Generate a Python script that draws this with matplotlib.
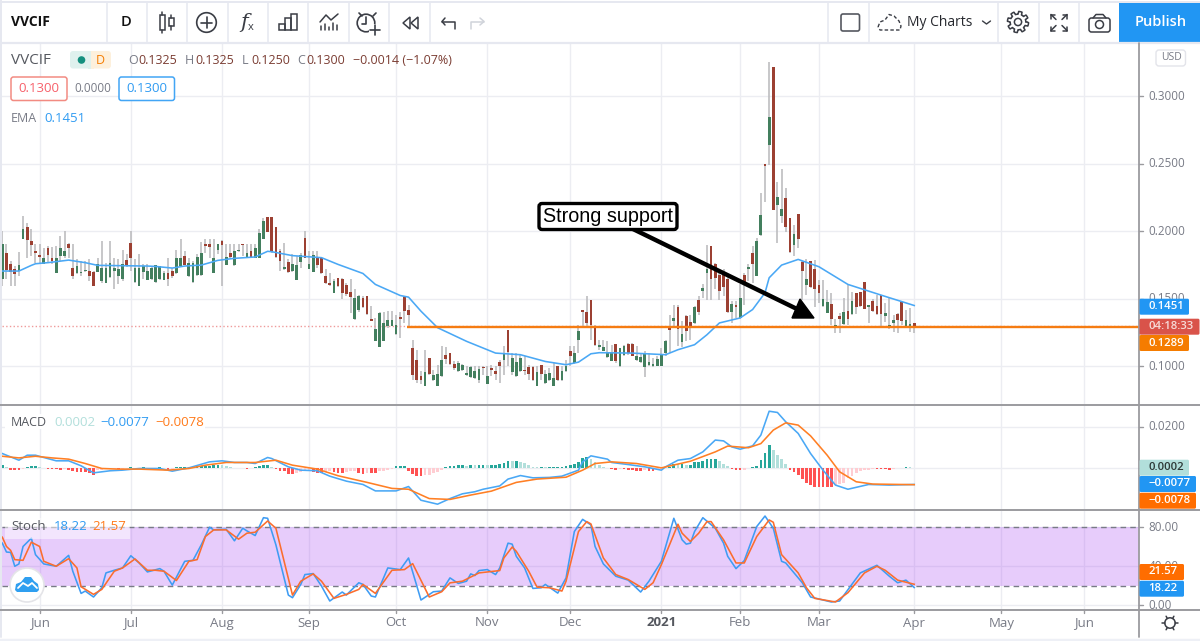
import matplotlib
matplotlib.use("Agg")
import matplotlib.pyplot as plt
from matplotlib.patches import Circle, FancyBboxPatch, Polygon, Rectangle
import numpy as np

plt.rcParams['font.family'] = ['Open Sans', 'DejaVu Sans']

W, H = 1200, 641

#
# Data (daily bars, 221 of them)
#
highs = [
    .2003, .1904, .1780, .1743, .1847, .2114, .2065, .2020, .1904, .1904,
    .1879, .1891, .1886, .1891, .1966, .2003, .1916, .1904, .1792, .1780,
    .1780, .1792, .1706, .1805, .1928, .1768, .1928, .1805, .1792, .1862,
    .1829, .2003, .1792, .1829, .1755, .1755, .1743, .1748, .1745, .1706,
    .1805, .1730, .1862, .1941, .1854, .1805, .1780, .1829, .1921, .1941,
    .1946, .1941, .1904, .1936, .1904, .1904, .1904, .1904, .1904, .1904,
    .1904, .1904, .2020, .2102, .2107, .2107, .2035, .1867, .1916, .1792,
    .1829, .1817, .1842, .2003, .1854, .1854, .1854, .1805, .1718, .1693,
    .1644, .1651, .1651, .1614, .1649, .1574, .1530, .1520, .1520, .1446,
    .1359, .1401, .1404, .1409, .1409, .1384, .1401, .1525, .1458, .1198,
    .1119, .0963, .1119, .1062, .0975, .1013, .1149, .1144, .1099, .1037,
    .1037, .1020, .1000, .1000, .1000, .1000, .1000, .1000, .1013, .1000,
    .1050, .1149, .1273, .1099, .1099, .1087, .1075, .1013, .1000, .1000,
    .1013, .0975, .0988, .1025, .1000, .1000, .1050, .1149, .1149, .1310,
    .1421, .1520, .1495, .1310, .1193, .1193, .1186, .1161, .1166, .1134,
    .1161, .1173, .1173, .1149, .1099, .1112, .1099, .1062, .1075, .1136,
    .1198, .1384, .1458, .1458, .1334, .1384, .1384, .1446, .1520, .1607,
    .1896, .1891, .1768, .1706, .1718, .1681, .1483, .1483, .1607, .1693,
    .1755, .1891, .1953, .2287, .2497, .3254, .3212, .2366, .2460, .2324,
    .2095, .2046, .2127, .1782, .1792, .1782, .1787, .1639, .1639, .1565,
    .1541, .1348, .1393, .1504, .1602, .1553, .1541, .1553, .1622, .1454,
    .1496, .1528, .1528, .1466, .1511, .1380, .1393, .1479, .1417, .1429,
    .1325,
]
lows = [
    .1594, .1644, .1594, .1594, .1673, .1941, .1800, .1817, .1763, .1763,
    .1758, .1768, .1755, .1691, .1780, .1805, .1805, .1644, .1681, .1669,
    .1698, .1631, .1594, .1701, .1619, .1614, .1656, .1574, .1607, .1631,
    .1738, .1706, .1619, .1594, .1644, .1639, .1639, .1619, .1639, .1639,
    .1599, .1656, .1686, .1738, .1748, .1664, .1619, .1673, .1669, .1842,
    .1805, .1688, .1829, .1594, .1750, .1805, .1743, .1849, .1817, .1805,
    .1800, .1800, .1800, .1946, .1998, .1842, .1805, .1706, .1713, .1693,
    .1701, .1639, .1730, .1800, .1718, .1698, .1730, .1681, .1607, .1599,
    .1540, .1589, .1500, .1520, .1396, .1347, .1401, .1433, .1381, .1334,
    .1186, .1144, .1186, .1285, .1297, .1235, .1211, .1322, .1297, .0901,
    .0876, .0872, .0852, .0938, .0896, .0852, .0921, .1020, .1013, .0975,
    .0961, .0963, .0931, .0914, .0909, .0876, .0938, .0872, .0926, .0901,
    .0876, .0938, .1000, .0938, .0921, .0958, .0938, .0901, .0896, .0852,
    .0901, .0872, .0896, .0852, .0896, .0896, .0956, .1000, .1020, .1099,
    .1297, .1297, .1198, .1154, .1124, .1112, .1062, .1037, .1025, .0995,
    .1075, .1087, .1075, .1037, .1025, .0921, .1000, .0995, .1000, .1000,
    .1075, .1099, .1285, .1149, .1144, .1186, .1198, .1317, .1384, .1508,
    .1495, .1495, .1570, .1495, .1520, .1396, .1322, .1359, .1352, .1458,
    .1631, .1614, .1669, .1966, .2218, .2490, .2157, .1915, .2058, .1997,
    .1836, .1817, .1873, .1491, .1528, .1577, .1442, .1467, .1442, .1393,
    .1306, .1245, .1245, .1306, .1304, .1380, .1390, .1437, .1422, .1324,
    .1405, .1380, .1299, .1331, .1274, .1257, .1250, .1306, .1294, .1257,
    .1250,
]
opens = [
    .1644, .1837, .1755, .1718, .1706, .1941, .2035, .1931, .1857, .1824,
    .1758, .1876, .1805, .1691, .1817, .1817, .1906, .1725, .1688, .1691,
    .1703, .1706, .1701, .1701, .1629, .1617, .1661, .1703, .1673, .1644,
    .1787, .1916, .1626, .1599, .1701, .1641, .1646, .1624, .1644, .1641,
    .1693, .1706, .1693, .1745, .1817, .1669, .1624, .1676, .1676, .1904,
    .1904, .1691, .1864, .1928, .1750, .1842, .1748, .1854, .1904, .1810,
    .1857, .1805, .1805, .1946, .2107, .2107, .2035, .1854, .1718, .1775,
    .1706, .1639, .1775, .1953, .1718, .1701, .1805, .1805, .1669, .1617,
    .1542, .1651, .1649, .1604, .1552, .1349, .1416, .1505, .1520, .1354,
    .1186, .1146, .1188, .1297, .1302, .1238, .1364, .1515, .1421, .1134,
    .1047, .0933, .0857, .1062, .0901, .0857, .0926, .1082, .1099, .1015,
    .0966, .0973, .0938, .0919, .0914, .0901, .0995, .0874, .0988, .0968,
    .1032, .1045, .1273, .0961, .0926, .0963, .0971, .0995, .0998, .0857,
    .1008, .0876, .0901, .0854, .1000, .0901, .0968, .1112, .1025, .1193,
    .1416, .1406, .1490, .1292, .1141, .1117, .1067, .1040, .1166, .1000,
    .1082, .1166, .1166, .1045, .1032, .0995, .1008, .1000, .1005, .1005,
    .1099, .1297, .1339, .1441, .1178, .1376, .1329, .1322, .1490, .1557,
    .1693, .1891, .1755, .1676, .1681, .1649, .1404, .1458, .1359, .1676,
    .1723, .1837, .1673, .1973, .2497, .2637, .3212, .2194, .2112, .2243,
    .2095, .1898, .2127, .1770, .1602, .1782, .1720, .1600, .1447, .1398,
    .1462, .1294, .1373, .1311, .1407, .1385, .1541, .1548, .1622, .1439,
    .1486, .1449, .1528, .1373, .1287, .1321, .1388, .1479, .1299, .1297,
    .1325,
]
closes = [
    .1904, .1713, .1698, .1681, .1750, .2015, .1936, .1899, .1842, .1807,
    .1805, .1824, .1780, .1805, .1874, .1852, .1879, .1669, .1745, .1701,
    .1711, .1671, .1597, .1755, .1730, .1730, .1768, .1725, .1718, .1755,
    .1748, .1802, .1730, .1730, .1745, .1706, .1725, .1748, .1745, .1693,
    .1644, .1669, .1805, .1805, .1753, .1768, .1768, .1812, .1842, .1894,
    .1884, .1805, .1904, .1896, .1810, .1812, .1854, .1862, .1899, .1842,
    .1807, .1879, .1990, .2074, .1998, .1849, .1812, .1782, .1738, .1701,
    .1755, .1753, .1824, .1805, .1755, .1822, .1748, .1688, .1619, .1602,
    .1636, .1594, .1547, .1535, .1515, .1508, .1520, .1441, .1386, .1337,
    .1280, .1396, .1322, .1342, .1342, .1305, .1352, .1409, .1381, .0936,
    .0901, .0901, .0958, .0946, .0938, .0943, .1050, .1052, .1018, .0988,
    .1023, .1010, .0951, .0993, .0968, .0980, .0988, .0926, .0975, .0948,
    .1003, .1094, .1104, .1060, .1035, .1062, .0963, .0946, .0901, .0961,
    .0946, .0941, .0951, .0914, .0901, .0968, .1005, .1075, .1099, .1263,
    .1401, .1322, .1310, .1161, .1159, .1141, .1104, .1104, .1040, .1134,
    .1149, .1099, .1080, .1080, .1067, .1099, .1035, .1020, .1055, .1087,
    .1191, .1273, .1359, .1277, .1243, .1265, .1292, .1441, .1401, .1577,
    .1718, .1649, .1654, .1557, .1589, .1401, .1465, .1441, .1505, .1619,
    .1738, .1755, .1928, .2121, .2485, .2842, .2157, .2255, .2164, .2034,
    .1849, .1979, .1945, .1708, .1644, .1585, .1575, .1543, .1499, .1476,
    .1348, .1304, .1348, .1400, .1353, .1481, .1439, .1444, .1427, .1454,
    .1412, .1388, .1385, .1393, .1304, .1346, .1346, .1336, .1346, .1314,
    .1300,
]

ema_bars = [0, 4, 7, 8, 11, 16, 20, 23, 35, 37, 41, 44, 48, 52, 56, 61, 64, 65, 70, 77,
            81, 87, 90, 96, 98, 101, 105, 112, 119, 125, 131, 136, 139, 142, 144, 152,
            160, 163, 167, 170, 173, 178, 181, 184, 185, 188, 192, 197, 204, 212, 220]
ema_vals = [.1706, .1706, .1748, .1760, .1768, .1787, .1768, .1748, .1743, .1740, .1728,
            .1743, .1750, .1785, .1800, .1810, .1852, .1849, .1820, .1805, .1755, .1688,
            .1607, .1525, .1513, .1409, .1287, .1186, .1099, .1087, .1037, .1013, .1032,
            .1094, .1102, .1099, .1087, .1124, .1161, .1235, .1322, .1359, .1421, .1545,
            .1656, .1750, .1792, .1738, .1607, .1528, .1451]

support_level = .1289
support_start = 97.6

macd_bars = [0, 2, 4, 6, 8, 10, 13, 16, 19, 22, 26, 29, 33, 38, 41, 45, 50, 53, 56, 59, 61,
             64, 65, 69, 72, 76, 79, 83, 87, 90, 95, 98, 101, 105, 108, 111, 114, 116, 120,
             122, 125, 128, 132, 135, 139, 140, 142, 146, 147, 151, 155, 159, 160, 163, 166,
             169, 172, 174, 176, 178, 181, 183, 185, 187, 189, 192, 195, 198, 201, 204, 209,
             214, 220]
macd_vals = [.0072, .0056, .0040, .0064, .0064, .0053, .0037, .0037, .0013, -.0021, -.0011,
             -.0008, 0, 0, -.0013, .0003, .0032, .0037, .0029, .0029, .0024, .0053, .0048,
             .0008, -.0008, -.0011, -.0037, -.0061, -.0077, -.0108, -.0108, -.0087, -.0153,
             -.0172, -.0145, -.0122, -.0112, -.0100, -.0084, -.0051, -.0034, -.0045, -.0043,
             -.0037, -.0008, .0032, .0061, .0045, .0029, .0019, .0008, -.0008, .0008, .0040,
             .0048, .0080, .0137, .0133, .0104, .0093, .0109, .0161, .0276, .0270, .0225,
             .0169, .0072, -.0008, -.0080, -.0100, -.0077, -.0080, -.0077]

signal_bars = [0, 4, 8, 12, 16, 20, 24, 28, 33, 40, 45, 49, 54, 61, 66, 70, 76, 81, 88, 94,
               98, 103, 108, 113, 118, 124, 129, 136, 140, 143, 147, 153, 159, 166, 172, 175,
               180, 183, 186, 189, 192, 195, 199, 202, 206, 210, 220]
signal_vals = [.0059, .0051, .0059, .0051, .0045, .0024, 0, -.0003, -.0003, -.0008, 0, .0016,
               .0029, .0029, .0040, .0016, -.0003, -.0035, -.0067, -.0096, -.0100, -.0145,
               -.0149, -.0128, -.0109, -.0067, -.0051, -.0042, -.0008, .0024, .0032, .0024,
               .0003, .0035, .0080, .0108, .0100, .0120, .0185, .0220, .0209, .0157, .0064,
               -.0016, -.0064, -.0075, -.0078]

macd_hist = [
    .0016, .0008, -.0005, -.0006, -.0006, -.0003, .0008, .0011, .0011, .0006,
    .0003, -.0002, -.0003, -.0004, -.0005, -.0002, -.0008, -.0014, -.0016, -.0018,
    -.0019, -.0022, -.0030, -.0008, -.0006, -.0004, -.0003, -.0002, -.0002, -.0001,
    .0002, .0008, .0003, .0002, .0006, .0002, .0002, .0003, .0005, .0002,
    -.0006, -.0003, .0005, .0008, .0008, .0006, .0008, .0010, .0011, .0013,
    .0014, .0016, .0019, .0016, .0012, .0008, .0004, .0003, .0002, -.0002,
    .0002, .0006, .0013, .0016, .0016, .0008, -.0003, -.0010, -.0014, -.0026,
    -.0026, -.0022, -.0018, -.0014, -.0012, -.0016, -.0020, -.0024, -.0016, -.0013,
    -.0019, -.0024, -.0024, -.0016, -.0013, -.0010, -.0024, -.0026, -.0022, -.0024,
    -.0024, -.0012, -.0010, -.0006, -.0003, .0010, .0013, .0014, -.0010, -.0026,
    -.0035, -.0035, -.0032, -.0029, -.0024, -.0016, -.0006, .0008,
    .0013, .0013, .0016, .0016, .0014, .0019, .0016, .0019, .0019, .0016,
    .0019, .0019, .0024, .0027, .0038, .0035, .0035, .0032, .0026, .0016,
    .0008, .0006, .0006, .0005, .0005, .0005, .0006, .0008, .0011, .0019,
    .0022, .0032, .0051, .0054, .0048, .0032, .0016, .0008, .0002, -.0003,
    -.0006, -.0002, -.0002, -.0006, -.0008, -.0010, -.0013, -.0005, -.0010, -.0013,
    -.0005, -.0001, .0002, .0008, .0024, .0022, .0022, .0019, .0019, .0029,
    .0029, .0035, .0045, .0048, .0048, .0038, .0022, .0010, -.0003, -.0008,
    -.0008, -.0005, .0002, .0006, .0014, .0042, .0075, .0112, .0088, .0067,
    .0048, .0024, -.0008, -.0019, -.0032, -.0051, -.0072, -.0080, -.0090, -.0091,
    -.0091, -.0091, -.0091, -.0080, -.0077, -.0069, -.0048, -.0035, -.0024, -.0013,
    -.0006, -.0005, -.0003, -.0003, -.0003, -.0003, -.0006, -.0002, .0001, .0003,
    .0006, .0005, .0002,
]

stoch_k_bars = [0, 1, 2, 3, 4, 5, 7, 8, 10, 13, 16, 17, 19, 20, 22, 24, 25, 27, 29, 31, 33, 35,
                38, 39, 41, 44, 46, 48, 50, 51, 54, 56, 58, 59, 61, 63, 64, 66, 69, 70, 72, 73,
                75, 77, 79, 82, 83, 86, 87, 89, 90, 93, 96, 98, 101, 104, 106, 108, 110, 112,
                113, 114, 115, 117, 119, 120, 122, 123, 124, 126, 128, 130, 131, 134, 136,
                138, 140, 142, 143, 145, 148, 151, 154, 156, 159, 162, 164, 165, 166, 167,
                169, 172, 174, 175, 177, 179, 182, 184, 186, 188, 189, 193, 195, 200, 202,
                207, 211, 214, 216, 218, 220]
stoch_k_vals = [63.7, 54.6, 54.2, 40, 42.4, 60.3, 68.8, 51.9, 42.4, 40, 51.2, 34.9, 12.2, 14.6,
                8.5, 18, 33.2, 35.9, 38.3, 50.8, 43.4, 34.2, 37.6, 34.9, 20.7, 45.1, 46.1, 62,
                80, 77.3, 78, 66.1, 79, 76.3, 71.5, 89.8, 89.2, 62, 10.5, 7.8, 21.4, 31.5, 32.5,
                19.7, 4.4, 13.6, 10.5, 23.1, 21.4, 9.5, 8.5, 38.3, 36.6, 48.5, 5.4, 13.9, 14.6,
                28.1, 22.4, 24.7, 32.2, 30.5, 35.6, 36.6, 31.5, 38.3, 63.7, 62.7, 50.2, 38.3,
                17.3, 18, 21.4, 12.5, 28.1, 75.6, 88.1, 82.4, 60.3, 42.4, 29.8, 25.8, 13.6,
                24.7, 45.1, 89.2, 67.1, 62.7, 63.7, 75.6, 89.8, 79, 63.7, 50.2, 37.6, 45.8,
                80.7, 91.5, 79, 45.1, 43.4, 23.1, 8.5, 3.4, 4.4, 33.2, 41, 29.8, 23.1, 25.8,
                18.22]

stoch_d_bars = [0, 1, 2, 3, 5, 7, 9, 10, 13, 16, 18, 19, 22, 24, 27, 29, 32, 35, 37, 39, 42, 45,
                47, 49, 51, 54, 57, 59, 61, 64, 66, 70, 72, 75, 77, 80, 83, 86, 87, 90, 94, 97,
                99, 103, 106, 108, 111, 115, 120, 121, 123, 124, 127, 129, 132, 135, 136, 139,
                141, 142, 145, 148, 151, 155, 157, 159, 163, 164, 166, 168, 170, 171, 174, 177,
                179, 182, 185, 186, 188, 192, 194, 196, 201, 204, 208, 211, 213, 216, 220]
stoch_d_vals = [69.8, 60.3, 56.3, 46.8, 46.1, 64.7, 60.3, 45.1, 40, 47.8, 38.3, 19, 11.2, 16.3,
                34.9, 38.3, 47.5, 35.9, 35.9, 34.9, 25.4, 45.1, 46.8, 70.5, 77.3, 77.3, 67.8,
                73.9, 74.9, 86.4, 79, 10.5, 24.7, 32.2, 24.7, 7.1, 11.2, 16.3, 21.4, 12.2, 35.9,
                36.6, 42.7, 8.5, 13.9, 23, 24.7, 33.2, 35.6, 48.5, 59.7, 55.3, 34.9, 18.6, 18,
                14.6, 24.7, 75.6, 85.8, 83.4, 48.5, 31.5, 26.4, 16.3, 23.1, 41.7, 83.1, 73.9,
                65.4, 73.9, 85.8, 85.8, 67.1, 43.4, 43.4, 70.5, 87.5, 85.1, 51.9, 33.2, 18, 7.1,
                3.4, 12.9, 33.2, 40, 35.9, 25.8, 21.57]

month_bars = [9, 31, 53, 74, 95, 117, 137, 159, 178, 197, 220, 241, 261]
month_labels = ["Jun", "Jul", "Aug", "Sep", "Oct", "Nov", "Dec", "2021", "Feb", "Mar", "Apr", "May", "Jun"]
price_ticks = [.10, .15, .20, .25, .30]
macd_ticks = [0, .02]
stoch_ticks = [0, 40, 80]

#
# Colours
#
GREEN = "#437f5e"
RED = "#9c4032"
WICK = "#b8b8ba"
GRID = "#ecedf2"
TXT = "#787b86"
BLUE = "#4aa8f5"
ORANGE = "#ff7f24"
SEP = "#9b9b9f"

x_left, x_right = 2, 1139
bar0, bar_step = 2.33, 4.145


def pane(top, bottom, ylim):
    a = fig.add_axes([x_left / W, 1 - bottom / H, (x_right - x_left) / W, (bottom - top) / H])
    a.set_xlim((x_left - bar0) / bar_step, (x_right - bar0) / bar_step)
    a.set_ylim(*ylim)
    a.set_xticks(month_bars)
    a.set_xticklabels([])
    a.tick_params(length=0)
    a.grid(True, color=GRID, lw=1)
    a.set_axisbelow(True)
    for s in a.spines.values():
        s.set_visible(False)
    return a


fig = plt.figure(figsize=(W / 100, H / 100), dpi=100, facecolor="white")
bars = np.arange(len(closes))

#
# Price pane
#
ax = pane(43, 405, (.0715, .3393))
ax.set_yticks(price_ticks)
ax.set_yticklabels([])
ax.vlines(bars, lows, highs, color=WICK, lw=1.1, zorder=2)
o, c = np.array(opens), np.array(closes)
up = c >= o
ax.bar(bars, np.maximum(np.abs(c - o), .0006), bottom=np.minimum(o, c), width=.66,
       color=[GREEN if u else RED for u in up], linewidth=0, zorder=3)
ax.plot(ema_bars, ema_vals, color=BLUE, lw=1.15, zorder=4)
ax.axhline(closes[-1], color="#ef9a9a", lw=1, ls=":", zorder=2)
ax.hlines(support_level, support_start, ax.get_xlim()[1], color="#f57c12", lw=1.7, zorder=5)

#
# MACD pane
#
ax2 = pane(405, 509.7, (-.01986, .0306))
ax2.set_yticks(macd_ticks)
ax2.set_yticklabels([])
hist_cols = []
for i, v in enumerate(macd_hist):
    prev = macd_hist[i - 1] if i else 0
    if v >= 0:
        hist_cols.append("#26a69a" if v >= prev else "#b2dfdb")
    else:
        hist_cols.append("#ff5252" if v <= prev else "#ffcdd2")
ax2.bar(bars, macd_hist, width=.65, color=hist_cols, linewidth=0, zorder=2)
ax2.plot(macd_bars, macd_vals, color=BLUE, lw=1.15, zorder=3)
ax2.plot(signal_bars, signal_vals, color=ORANGE, lw=1.15, zorder=4)

#
# Stoch pane
#
ax3 = pane(509.7, 609, (-3.8, 98))
ax3.set_yticks(stoch_ticks)
ax3.set_yticklabels([])
ax3.axhspan(20, 80, color="#a337f3", alpha=.25, lw=0, zorder=1)
ax3.axhline(80, color="#787b86", lw=1, ls=(0, (4, 3)), zorder=2)
ax3.axhline(20, color="#787b86", lw=1, ls=(0, (4, 3)), zorder=2)
ax3.plot(stoch_k_bars, stoch_k_vals, color="#3f9cf3", lw=1.15, zorder=3)
ax3.plot(stoch_d_bars, stoch_d_vals, color="#fb6d2e", lw=1.15, zorder=4)

#
# Overlay in pixel coordinates: toolbar, legends, price tags, callout
#
ui = fig.add_axes([0, 0, 1, 1], zorder=10)
ui.set_xlim(0, W)
ui.set_ylim(H, 0)
ui.axis("off")
ui.patch.set_alpha(0)


def label(x, y, s, color=TXT, size=9.5, ha="left", weight="normal", **kw):
    ui.text(x, y, s, color=color, fontsize=size, ha=ha, va="center", fontweight=weight, **kw)


def box(x0, y0, x1, y1, fc="white", ec="none", lw=1, r=2.5, z=1):
    ui.add_patch(FancyBboxPatch((x0 + r, y0 + r), x1 - x0 - 2 * r, y1 - y0 - 2 * r,
                                boxstyle=f"round,pad={r},rounding_size={r}",
                                fc=fc, ec=ec, lw=lw, zorder=z))


def line(xs, ys, color="#3a3d45", lw=1.2, **kw):
    ui.plot(xs, ys, color=color, lw=lw, solid_capstyle="round", **kw)


# pane frames
ui.add_patch(Rectangle((0, 0), W, 42.5, fc="white", ec="none", zorder=0))
line([0, W], [42.5, 42.5], color="#e6e8f0", lw=1.6)
line([0, W], [2, 2], color="#e6e8f0", lw=1.4)
line([1, 1], [0, 637], color="#e6e8f0", lw=1.4)
line([0, W], [639.5, 639.5], color="#eef0f6", lw=2.5)
for y in (405, 509.7, 609.5):
    line([0, W], [y, y], color=SEP, lw=1.4)
line([x_right, x_right], [43, 637], color=SEP, lw=1.3)
for x in (107, 147, 187, 228, 268, 308, 349, 389, 430, 828, 869, 998, 1039, 1079):
    line([x, x], [3, 42], color="#e6e8f0", lw=1.1)

# toolbar
label(11, 22, "VVCIF", color="#111111", size=10, weight="bold")
label(126, 22.5, "D", color="#111111", size=10.5, ha="center", weight="semibold")
for x, y0, y1, ym0, ym1 in ((162, 12, 33, 15, 30), (171, 15, 30, 18, 26)):
    line([x, x], [y0, ym0], lw=1.1)
    line([x, x], [ym1, y1], lw=1.1)
    ui.add_patch(Rectangle((x - 2.5, ym0), 5, ym1 - ym0, fc="white", ec="#3a3d45", lw=1.1))
ui.add_patch(Circle((206.5, 22.5), 9.8, fc="none", ec="#3a3d45", lw=1.2))
line([201, 212], [22.5, 22.5])
line([206.5, 206.5], [17, 28])
ui.text(244, 22, "f", family="DejaVu Serif", style="italic", fontsize=15, color="#3a3d45", ha="center", va="center")
label(251, 28, "x", color="#3a3d45", size=8, ha="center")
for x, t in ((279, 24), (285, 18), (291, 14)):
    ui.add_patch(Rectangle((x, t), 5.5, 30 - t, fc="none", ec="#3a3d45", lw=1.1))
line([320, 326, 331, 338], [22, 15, 20, 14], lw=1.1)
for x, t in ((321, 26), (325, 24), (329, 27), (333, 23), (337, 25)):
    line([x, x], [t, 30], lw=1.1)
ui.add_patch(Circle((366, 23), 8.8, fc="none", ec="#3a3d45", lw=1.2))
line([366, 366, 362], [17, 24, 24])
line([359, 362], [13, 16])
line([373, 376], [16, 13])
ui.add_patch(Rectangle((369, 24), 12, 10, fc="white", ec="none"))
line([370, 380], [29.5, 29.5])
line([375, 375], [24.5, 34.5])
ui.add_patch(Polygon([(403, 23), (410, 17), (410, 29)], fc="none", ec="#3a3d45", lw=1.1))
ui.add_patch(Polygon([(411, 23), (418, 17), (418, 29)], fc="none", ec="#3a3d45", lw=1.1))
line([442, 447, 455, 455], [22, 22, 22, 29], lw=1.1)
line([445, 442, 445], [18, 21.5, 25], lw=1.1)
line([484, 477, 471, 471], [22, 22, 22, 29], color="#d0d3da", lw=1.1)
line([480, 484, 480], [18, 21.5, 25], color="#d0d3da", lw=1.1)

box(841, 14, 859.5, 31, fc="white", ec="#555860", lw=1.2, r=2)
ui.plot([878, 880, 885, 889, 894, 899, 901, 900, 880, 878], [27, 22, 20, 14.5, 16, 21, 26, 30, 30, 27],
        color="#3a3d45", lw=1, ls=(0, (2.5, 1.6)))
label(907, 22.5, "My Charts", color="#26282e", size=10)
line([982.5, 986.5, 990.5], [21, 24, 21], lw=1)
ui.add_patch(Circle((1018, 22), 3.6, fc="none", ec="#3a3d45", lw=1.1))
t = np.linspace(0, 2 * np.pi, 97)
rr = 9.2 + 1.4 * np.sign(np.sin(8 * t))
ui.plot(1018 + rr * np.cos(t), 22 + rr * np.sin(t), color="#3a3d45", lw=1.1)
for sx, sy in ((-1, -1), (1, -1), (-1, 1), (1, 1)):
    cx, cy = 1059 + sx * 3, 22.5 + sy * 3
    line([cx, cx + sx * 5], [cy, cy + sy * 5], lw=1.1)
    line([cx + sx * 5, cx + sx * 5], [cy + sy * 5, cy + sy * 1], lw=1.1)
    line([cx + sx * 5, cx + sx * 1], [cy + sy * 5, cy + sy * 5], lw=1.1)
box(1089, 18, 1110, 32, fc="white", ec="#3a3d45", lw=1.1, r=2.5)
line([1093, 1096, 1103, 1106], [18, 14.5, 14.5, 18], lw=1.1)
ui.add_patch(Circle((1099.5, 24.5), 4, fc="none", ec="#3a3d45", lw=1.1))
ui.add_patch(Rectangle((1119, 3), 81, 39.5, fc="#2196f3", ec="none"))
label(1161, 22.5, "Publish", color="white", size=10.5, ha="center", weight="semibold")

# legend rows
label(11, 61, "VVCIF", color="#55585f", size=11)
box(70, 51, 92, 68.5, fc="#dff1ee", r=3)
box(90, 51, 111, 68.5, fc="#fdf0dc", r=3)
ui.add_patch(Rectangle((88, 51), 3, 17.5, fc="#dff1ee", ec="none", zorder=2))
ui.add_patch(Rectangle((91, 51), 3, 17.5, fc="#fdf0dc", ec="none", zorder=2))
ui.add_patch(Circle((81.5, 60), 3.8, fc="#14907f", ec="none", zorder=3))
label(100, 60, "D", color="#f57c00", size=9, ha="center", zorder=3)
BROWN = "#7b3d33"
for xl, s, xv, v in ((128, "O", 138, opens[-1]), (185, "H", 195, highs[-1]),
                     (242, "L", 251, lows[-1]), (297, "C", 306, closes[-1])):
    label(xl, 61, s, size=9)
    label(xv, 61, f"{v:.4f}", color=BROWN, size=9)
label(353, 61, "\u22120.0014 (\u22121.07%)", color=BROWN, size=9)
box(11, 77, 67, 100.5, fc="white", ec="#f28b82", lw=1.1)
label(39, 88.5, "0.1300", color="#f7606a", size=9.5, ha="center")
label(93, 89, "0.0000", size=8.5, ha="center")
box(119, 77, 174.5, 100.5, fc="white", ec="#42a5f5", lw=1.1)
label(147, 88.5, "0.1300", color="#2f9bf2", size=9.5, ha="center")
label(11, 118, "EMA", size=9)
label(44, 118, "0.1451", color="#2f9bf2", size=9.5)

ui.add_patch(Rectangle((5, 414), 200, 15, fc="white", ec="none", zorder=1))
label(11, 422, "MACD", size=9, color="#55585f")
label(54, 422, "0.0002", color="#b2dfdb", size=9.5)
label(100, 422, "\u22120.0077", color="#2f9bf2", size=9.5)
label(155, 422, "\u22120.0078", color="#ff7a1a", size=9.5)

ui.add_patch(Rectangle((5, 518), 125, 21, fc="white", ec="none", alpha=.5, zorder=1))
label(11, 527, "Stoch", size=9.5, color="#55585f")
label(54, 527, "18.22", color="#2f9bf2", size=9.5)
label(92, 527, "21.57", color="#ff7a1a", size=9.5)

# watermark
ui.add_patch(Circle((27, 585), 17, fc="white", ec="#e4e4e8", lw=1.2, zorder=3))
ui.add_patch(Polygon([(15, 590), (16, 584), (21, 582), (25, 577), (31, 577), (34, 581), (38, 584),
                      (39, 590), (37, 592), (17, 592)], fc="#2f9ff0", ec="none", zorder=4))
line([18, 23, 28, 32, 37], [588, 583, 586, 583, 588], color="white", lw=1.3, zorder=5)

# right scale
ax_pos = [(ax, price_ticks, "{:.4f}"), (ax2, macd_ticks, "{:.4f}"), (ax3, stoch_ticks, "{:.2f}")]
for a, ticks, fmt in ax_pos:
    for v in ticks:
        ypx = ui.transData.inverted().transform(a.transData.transform((0, v)))[1]
        line([x_right, x_right + 4], [ypx, ypx], color=SEP, lw=1)
        label(1148.5, ypx, fmt.format(v), size=8.4)
box(1156, 50, 1185.5, 66, fc="white", ec="#e3e4ea", lw=1, r=3)
label(1171, 58, "USD", size=7.5, ha="center")


def tag(y, s, bg, right=1189, fg="white"):
    box(x_right + .5, y - 8, right, y + 8, fc=bg, r=1.5, z=4)
    label(1148.5, y, s, color=fg, size=8.2, weight="semibold", zorder=5)


tag(306.7, "0.1451", "#2196f3")
tag(326.7, "04:18:33", "#d9534a", right=1199.5, fg="#f6dcd9")
tag(343, "0.1289", "#f57c00")
tag(467.7, "0.0002", "#b2dfdb", fg="#2e3a38")
tag(484, "\u22120.0077", "#2196f3", right=1196)
tag(500.7, "\u22120.0078", "#ff6d00", right=1196)
tag(572, "21.57", "#ff6d00", right=1184)
tag(588.7, "18.22", "#2196f3", right=1184)

# time scale
for b, s in zip(month_bars, month_labels):
    xpx = bar0 + b * bar_step
    line([xpx, xpx], [609.5, 613], color=SEP, lw=1)
    if s == "2021":
        label(xpx, 623, s, color="#55585f", size=9.5, ha="center", weight="bold")
    else:
        label(xpx, 623, s, size=9.5, ha="center")

# settings icon
ui.add_patch(Circle((1170, 623), 5.2, fc="none", ec="#3a3d45", lw=1.1))
for a in np.arange(0, 2 * np.pi, np.pi / 3):
    line([1170 + 5.2 * np.cos(a), 1170 + 7.8 * np.cos(a)], [623 + 5.2 * np.sin(a), 623 + 7.8 * np.sin(a)], lw=1.1)

# callout
line([633, 797], [229, 309], color="black", lw=3.2, zorder=6)
ui.add_patch(Polygon([(800, 299), (792, 318), (814, 318)], fc="black", ec="black", lw=1, zorder=6))
box(539, 203.5, 677, 229.5, fc="white", ec="black", lw=2.4, r=3, z=7)
ui.text(608, 216.5, "Strong support", family="Liberation Sans", fontsize=14.2, color="black",
        ha="center", va="center", zorder=8)

fig.savefig("out.png", dpi=100)
